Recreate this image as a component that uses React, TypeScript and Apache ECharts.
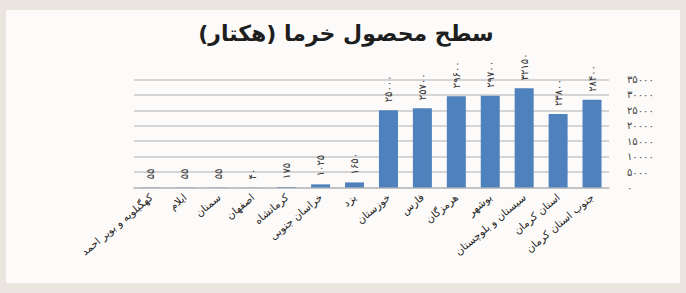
import React, { useEffect, useRef } from "react";
import * as echarts from "echarts";

const titleText = "سطح محصول خرما (هکتار)\u200F";

const categories = [
  "کهگیلویه و بویر احمد",
  "ایلام",
  "سمنان",
  "اصفهان",
  "کرمانشاه",
  "خراسان جنوبی",
  "یزد",
  "خوزستان",
  "فارس",
  "هرمزگان",
  "بوشهر",
  "سیستان و بلوچستان",
  "استان کرمان",
  "جنوب استان کرمان",
];

const areaValues = [55, 55, 55, 40, 175, 1025, 1650, 25000, 25700, 29600, 29700, 32150, 23800, 28400];

const yMin = 0;
const yMax = 35000;
const yStep = 5000;

const faDigits = "۰۱۲۳۴۵۶۷۸۹";
const toFa = (n: number | string) => String(n).replace(/\d/g, (d) => faDigits[Number(d)]);

export default function App() {
  const ref = useRef<HTMLDivElement>(null);

  useEffect(() => {
    document.body.style.margin = "0";
    if (!ref.current) return;
    const chart = echarts.init(ref.current, undefined, { renderer: "svg" });
    chart.setOption({
      animation: false,
      title: {
        text: titleText,
        left: 341,
        textAlign: "center",
        top: 17,
        textStyle: {
          fontFamily: "DejaVu Sans",
          fontSize: 22,
          fontWeight: "bold",
          color: "#1e1e1e",
        },
      },
      grid: { left: 134, right: 77, top: 79.5, bottom: 105.5, containLabel: false },
      xAxis: {
        type: "category",
        data: categories,
        axisLine: { show: true, lineStyle: { color: "#bdbdbd", width: 1.5 } },
        axisTick: { show: false },
        axisLabel: {
          interval: 0,
          rotate: 40,
          fontSize: 10.5,
          fontFamily: "DejaVu Sans",
          color: "#222",
          margin: 8,
        },
      },
      yAxis: {
        type: "value",
        position: "right",
        min: yMin,
        max: yMax,
        interval: yStep,
        axisLine: { show: false },
        axisTick: { show: false },
        splitLine: { lineStyle: { color: "#c8c8c8", width: 1.5 } },
        axisLabel: {
          margin: 18,
          fontSize: 10,
          fontFamily: "DejaVu Sans",
          color: "#444",
          formatter: (v: number) => toFa(v),
        },
      },
      series: [
        {
          type: "bar",
          data: areaValues,
          barWidth: 19,
          itemStyle: { color: "#4f81bd" },
        },
      ],
    });

    const valueLabels = areaValues.map((v, i) => {
      const pt = chart.convertToPixel({ seriesIndex: 0 }, [i, v]) as number[];
      return {
        type: "text",
        x: pt[0],
        y: pt[1] - 8,
        rotation: Math.PI / 2,
        silent: true,
        style: {
          text: toFa(v),
          align: "left",
          verticalAlign: "middle",
          fontSize: 10,
          fontFamily: "DejaVu Sans",
          fill: "#333",
        },
      };
    });
    chart.setOption({ graphic: valueLabels });

    return () => chart.dispose();
  }, []);

  return (
    <div style={{ position: "relative", width: 686, height: 293, background: "#ebe5df" }}>
      <div
        style={{
          position: "absolute",
          left: 6,
          top: 10,
          width: 674,
          height: 273,
          background: "#fcfbfa",
        }}
      />
      <div ref={ref} style={{ position: "absolute", left: 0, top: 0, width: 686, height: 293 }} />
    </div>
  );
}
